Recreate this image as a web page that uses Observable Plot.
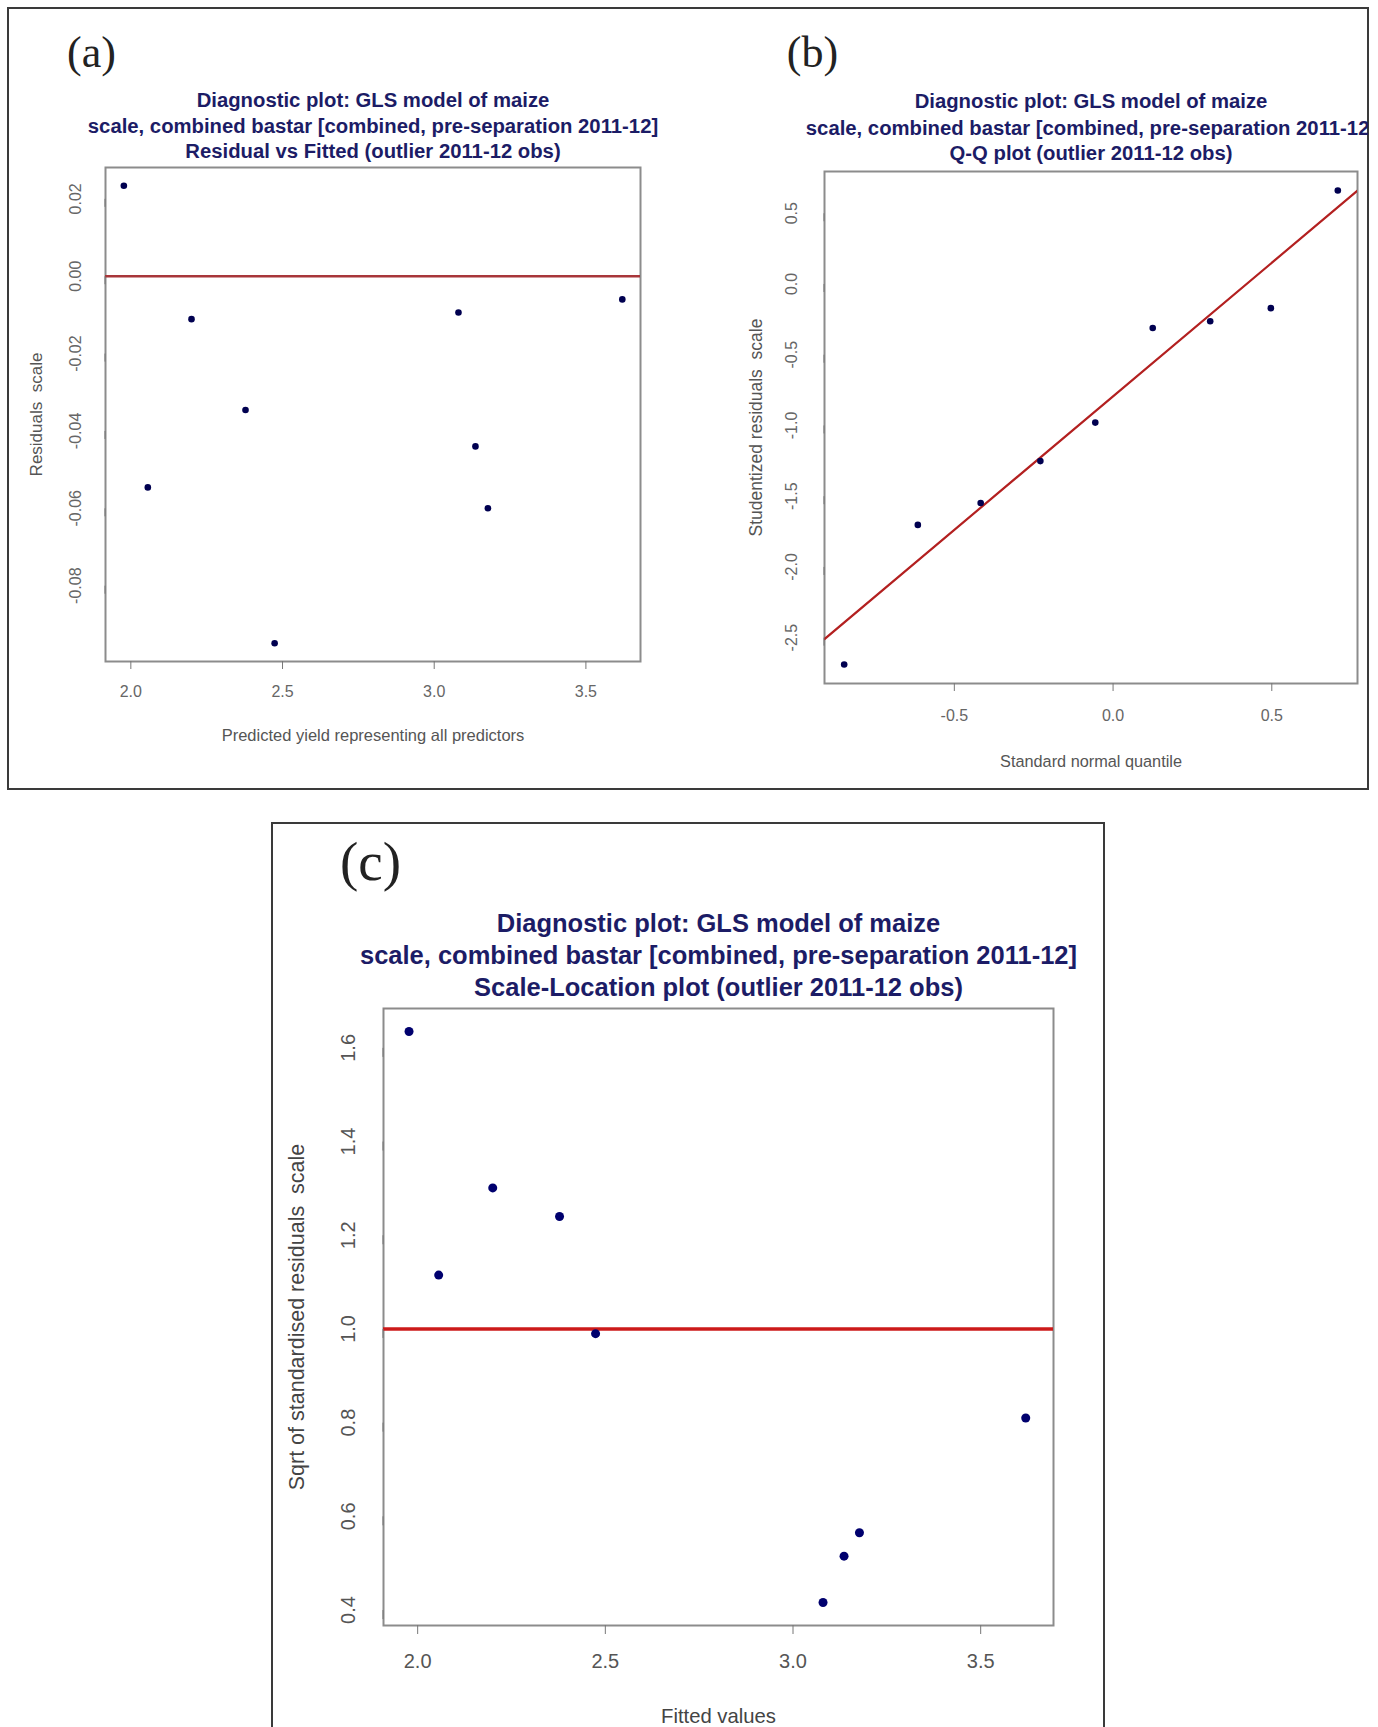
<!DOCTYPE html>
<html><head><meta charset="utf-8">
<script src="https://cdn.jsdelivr.net/npm/d3@7"></script>
<script src="https://cdn.jsdelivr.net/npm/@observablehq/plot@0.6"></script>
<style>
html,body{margin:0;padding:0;background:#fff;width:1378px;height:1727px;overflow:hidden;position:relative;}
.frame{position:absolute;box-sizing:border-box;border:2px solid #3a3a3a;}
.panel{position:absolute;}
.panel svg{display:block;max-width:none;overflow:hidden;background:transparent;}
</style></head><body>
<div class="frame" style="left:7px;top:7px;width:1362px;height:783px"></div>
<div class="frame" style="left:271px;top:822px;width:834px;height:920px;border-bottom:none"></div>
<div class="panel" id="pa" style="left:9px;top:9px"></div>
<div class="panel" id="pb" style="left:690px;top:9px"></div>
<div class="panel" id="pc" style="left:273px;top:824px"></div>
<script>
// ---- data ----
const fitted = [1.977, 2.056, 2.200, 2.378, 2.474, 3.080, 3.136, 3.177, 3.620];
const residuals = [0.0234, -0.0546, -0.0111, -0.0346, -0.0949, -0.0094, -0.0440, -0.0600, -0.0060];
const sqrtStdResid = [1.635, 1.115, 1.301, 1.240, 0.990, 0.416, 0.515, 0.565, 0.810];
const qqTheoretical = [-0.847, -0.615, -0.417, -0.229, -0.056, 0.125, 0.306, 0.497, 0.708];
const qqSample = [-2.690, -1.703, -1.548, -1.252, -0.980, -0.311, -0.264, -0.171, 0.661];
const qqLineIntercept = -0.794;
const qqLineSlope = 1.888;
const refLineA = 0;
const refLineC = 1.0;

const titleCommon = ["Diagnostic plot: GLS model of maize", "scale, combined bastar [combined, pre-separation 2011-12]"];
const titleA = [...titleCommon, "Residual vs Fitted (outlier 2011-12 obs)"];
const titleB = [...titleCommon, "Q-Q plot (outlier 2011-12 obs)"];
const titleC = [...titleCommon, "Scale-Location plot (outlier 2011-12 obs)"];
const panelLabels = ["(a)", "(b)", "(c)"];

const ticksAX = [2.0, 2.5, 3.0, 3.5];
const ticksAY = [-0.08, -0.06, -0.04, -0.02, 0.00, 0.02];
const ticksBX = [-0.5, 0.0, 0.5];
const ticksBY = [-2.5, -2.0, -1.5, -1.0, -0.5, 0.0, 0.5];
const ticksCX = [2.0, 2.5, 3.0, 3.5];
const ticksCY = [0.4, 0.6, 0.8, 1.0, 1.2, 1.4, 1.6];

const labelAX = "Predicted yield representing all predictors";
const labelAY = "Residuals  scale";
const labelBX = "Standard normal quantile";
const labelBY = "Studentized residuals  scale";
const labelCX = "Fitted values";
const labelCY = "Sqrt of standardised residuals  scale";

// ---- helpers ----
const SANS = "Liberation Sans, Arial, Helvetica, sans-serif";
const SERIF = "Liberation Serif, Times New Roman, serif";
const navy = "#1c1c66";
const pointCol = "#000050";

function fmt(n){ return d => d.toFixed(n); }

function titleMarks(lines, dys, size){
  return lines.map((t,i) => Plot.text([t], {frameAnchor:"top", dy: dys[i], lineAnchor:"middle",
    textAnchor:"middle", fontSize:size, fontWeight:"bold", fill:navy, fontFamily:SANS}));
}

function buildPanel(o){
  return Plot.plot({
    width:o.width, height:o.height,
    marginLeft:o.ml, marginRight:o.mr, marginTop:o.mt, marginBottom:o.mb,
    style:{fontFamily:SANS, background:"transparent", overflow:"hidden"},
    x:{domain:o.xd, label:null},
    y:{domain:o.yd, label:null},
    marks:[
      Plot.frame({stroke:"#8c8c8c", strokeWidth:2}),
      ...o.lineMarks,
      Plot.dot(o.data, {x:"x", y:"y", r:o.r, fill:o.pointFill, stroke:null}),
      Plot.axisX({ticks:o.xt, tickFormat:fmt(1), tickSize:o.ts, tickPadding:o.tpx, fontSize:o.tfs,
        stroke:"#777", fill:o.tickFill, label:null, fontFamily:SANS}),
      Plot.axisY({ticks:o.yt, tickFormat:fmt(o.yfmt), tickSize:o.ts, tickPadding:o.tpy, fontSize:o.tfs,
        rotate:-90, textAnchor:"middle", lineAnchor:"middle",
        stroke:"#777", fill:o.tickFill, label:null, fontFamily:SANS}),
      Plot.text([o.xl], {frameAnchor:"bottom", dy:o.xlOff, lineAnchor:"middle", fontSize:o.lfs, fill:o.labFill, fontFamily:SANS}),
      Plot.text([o.yl], {frameAnchor:"left", dx:o.ylOff, rotate:-90, lineAnchor:"middle", textAnchor:"middle", fontSize:o.ylfs || o.lfs, fill:o.labFill, fontFamily:SANS}),
      ...titleMarks(o.title, o.titleDy, o.titleSize),
      Plot.text([o.panelLabel], {frameAnchor:"top-left", dx:o.plDx, dy:o.plDy, textAnchor:"middle", lineAnchor:"middle",
        fontSize:o.plSize, fill:"#222", fontFamily:SERIF})
    ]
  });
}

const zip = (xs, ys) => xs.map((x,i) => ({x, y: ys[i]}));

// ---- panel (a) ----
const xdA = [1.9165, 3.68], ydA = [-0.0996, 0.0281];
document.getElementById("pa").append(buildPanel({
  width:680, height:779, ml:96, mr:49, mt:158, mb:127,
  xd:xdA, yd:ydA, data:zip(fitted, residuals), r:3.3, pointFill:pointCol,
  lineMarks:[Plot.ruleY([refLineA], {stroke:"#a8363a", strokeWidth:2.5})],
  xt:ticksAX, yt:ticksAY, yfmt:2, ts:8, tpx:16, tpy:22, tfs:16, tickFill:"#666",
  xl:labelAX, xlOff:74, yl:labelAY, ylOff:-69, lfs:16.5, ylfs:17, labFill:"#555",
  title:titleA, titleDy:[-67,-41,-16], titleSize:20.3,
  panelLabel:panelLabels[0], plDx:-14, plDy:-115, plSize:44
}));

// ---- panel (b) ----
const xdB = [-0.909, 0.770], ydB = [-2.824, 0.795];
const qqLine = xdB.map(x => ({x, y: qqLineIntercept + qqLineSlope * x}));
document.getElementById("pb").append(buildPanel({
  width:678, height:779, ml:134, mr:11, mt:162, mb:105,
  xd:xdB, yd:ydB, data:zip(qqTheoretical, qqSample), r:3.3, pointFill:pointCol,
  lineMarks:[Plot.line(qqLine, {x:"x", y:"y", stroke:"#b32020", strokeWidth:2.2, clip:true})],
  xt:ticksBX, yt:ticksBY, yfmt:1, ts:8, tpx:18, tpy:25, tfs:16, tickFill:"#666",
  xl:labelBX, xlOff:78, yl:labelBY, ylOff:-68, lfs:16.3, ylfs:17.5, labFill:"#555",
  title:titleB, titleDy:[-70,-43,-18], titleSize:20.3,
  panelLabel:panelLabels[1], plDx:-12, plDy:-119, plSize:44
}));

// ---- panel (c) ----
const xdC = [1.909, 3.694], ydC = [0.367, 1.684];
document.getElementById("pc").append(buildPanel({
  width:831, height:903, ml:110, mr:51, mt:184, mb:102,
  xd:xdC, yd:ydC, data:zip(fitted, sqrtStdResid), r:4.5, pointFill:"#00006e",
  lineMarks:[Plot.ruleY([refLineC], {stroke:"#cc1a1a", strokeWidth:3.5})],
  xt:ticksCX, yt:ticksCY, yfmt:1, ts:9, tpx:19, tpy:26, tfs:20, tickFill:"#555",
  xl:labelCX, xlOff:91, yl:labelCY, ylOff:-86, lfs:20.3, ylfs:21.5, labFill:"#444",
  title:titleC, titleDy:[-85,-53,-21], titleSize:25.5,
  panelLabel:panelLabels[2], plDx:-13, plDy:-146, plSize:55
}));
</script>
</body></html>
